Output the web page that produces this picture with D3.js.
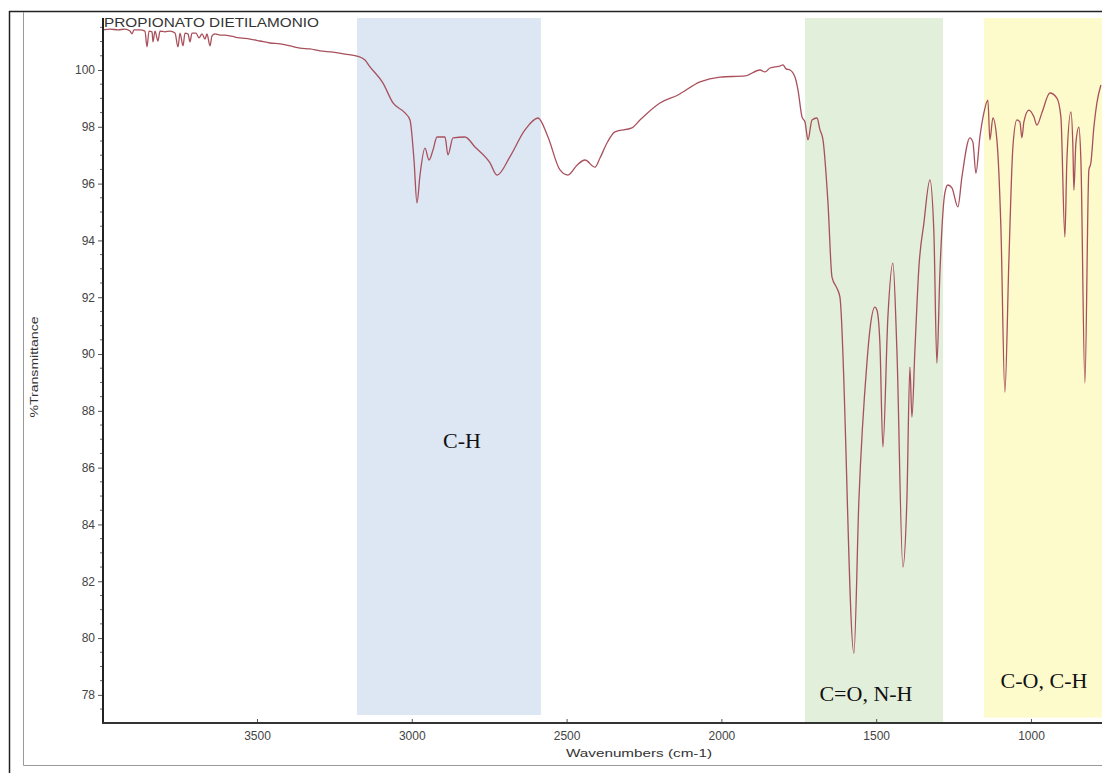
<!DOCTYPE html>
<html><head><meta charset="utf-8">
<script src="https://cdn.jsdelivr.net/npm/d3@7"></script>
<style>body{margin:0;background:#fff}svg{display:block}</style>
</head><body>
<svg id="c" width="1102" height="773"></svg>
<script>
// ---- data ----
const title = "PROPIONATO DIETILAMONIO";
const xAxisTitle = "Wavenumbers (cm-1)";
const yAxisTitle = "%Transmittance";
const wavenumber = [
3997.4,3974.8,3948.9,3926.4,3910.2,3903.7,3897.3,3878.0,3861.8,3855.3,3848.8,3839.1,3835.9,3829.5,3819.8,3813.3,
3797.2,3781.0,3764.9,3755.2,3748.7,3739.0,3732.6,3722.9,3716.4,3709.9,3697.0,3687.3,3677.6,3668.0,3661.5,3651.8,
3645.4,3635.7,3619.5,3603.3,3587.2,3571.0,3554.9,3522.6,3490.3,3458.0,3425.7,3393.4,3361.1,3328.8,3296.5,3254.5,
3215.9,3177.0,3151.2,3135.0,3093.0,3060.7,3021.9,3005.8,2992.9,2983.2,2973.5,2957.4,2944.4,2931.5,2918.6,2892.8,
2883.1,2866.9,2828.2,2795.9,2747.4,2724.8,2683.1,2634.5,2592.4,2560.1,2521.3,2495.5,2466.4,2440.6,2408.3,2392.1,
2369.5,2343.7,2288.8,2263.0,2198.3,2140.2,2069.1,2004.5,1923.7,1875.3,1859.2,1843.0,1826.8,1810.7,1801.0,1791.3,
1778.4,1762.3,1752.6,1739.6,1729.9,1720.3,1707.3,1691.2,1681.5,1671.8,1655.7,1642.7,1626.9,1617.2,1572.0,1555.8,
1530.0,1520.3,1504.2,1497.7,1488.0,1478.3,1462.2,1446.0,1433.1,1413.7,1400.8,1391.1,1384.6,1374.9,1362.0,1345.9,
1326.5,1313.6,1303.9,1294.2,1278.1,1268.4,1255.4,1236.1,1223.1,1197.3,1187.6,1177.9,1165.0,1152.1,1139.2,1132.7,
1123.0,1110.1,1097.2,1084.3,1071.3,1058.4,1045.5,1035.8,1029.3,1022.9,1006.7,990.6,980.9,964.8,938.9,916.3,
903.4,890.5,884.0,871.1,864.6,861.4,854.9,845.2,838.8,825.8,813.0,806.5,796.8,787.1,774.2
];
const transmittance = [
101.41,101.44,101.41,101.44,101.37,101.27,101.41,101.41,101.37,100.81,101.37,101.34,100.99,101.37,101.02,101.37,
101.34,101.37,101.30,100.81,101.30,100.85,101.30,101.27,100.99,101.30,101.30,101.13,101.27,101.09,101.27,100.85,
101.20,101.27,101.23,101.23,101.20,101.16,101.13,101.09,101.02,100.95,100.92,100.85,100.77,100.74,100.67,100.63,
100.56,100.49,100.35,100.11,99.54,98.84,98.49,98.24,96.83,95.32,96.30,97.25,96.83,97.18,97.64,97.64,
97.01,97.61,97.64,97.29,96.73,96.30,96.94,97.89,98.31,97.64,96.48,96.30,96.65,96.83,96.58,96.90,
97.43,97.82,97.96,98.24,98.84,99.12,99.58,99.75,99.79,100.00,99.93,100.07,100.11,100.14,100.18,100.04,
100.00,99.75,99.30,98.35,98.17,97.54,98.24,98.31,97.89,97.54,95.32,92.71,92.32,92.01,79.47,84.86,
89.68,90.85,91.65,91.55,90.39,86.73,91.30,93.20,90.14,82.50,84.86,89.54,87.78,90.14,93.06,94.61,
96.13,94.26,89.68,92.85,95.67,95.95,95.85,95.18,96.23,97.61,97.46,96.37,97.64,98.49,98.94,97.54,
98.31,97.54,94.47,88.66,93.31,97.29,98.24,98.17,97.61,98.17,98.59,98.35,98.06,98.49,99.19,99.01,
98.35,94.12,96.83,98.52,97.29,95.77,97.43,97.99,96.83,88.98,96.48,96.73,97.99,98.84,99.47
];
const xTickValues = [3500,3000,2500,2000,1500,1000];
const yTickValues = [78,80,82,84,86,88,90,92,94,96,98,100];
const bandLabels = ["C-H","C=O, N-H","C-O, C-H"];
const bandFrom = [3177, 1730, 1152];
const bandTo = [2583, 1284, 700];
const bandFloor = [77.29, 77.04, 77.20];

// ---- styles / layout ----
const bandFill = ["#dce7f3","#e2efda","#fdfbcc"];
const labelAt = [[2838,86.70],[1533,77.78],[958,78.24]];
const W = 1102, H = 773;
const plot = {left:103, right:1102, top:18, bottom:723};

const svg = d3.select("#c");
const x = d3.scaleLinear().domain([3997.4, 770.6]).range([plot.left, plot.right]);
const y = d3.scaleLinear().domain([77.01, 101.83]).range([plot.bottom, plot.top]);

// frames
svg.append("line").attr("x1",9.5).attr("x2",9.5).attr("y1",11).attr("y2",H).attr("stroke","#222").attr("stroke-width",1.5);
svg.append("line").attr("x1",9).attr("x2",W).attr("y1",11.5).attr("y2",11.5).attr("stroke","#222").attr("stroke-width",1.5);
svg.append("line").attr("x1",23.5).attr("x2",23.5).attr("y1",12).attr("y2",765.5).attr("stroke","#999").attr("stroke-width",1);
svg.append("line").attr("x1",23.5).attr("x2",W).attr("y1",765.5).attr("y2",765.5).attr("stroke","#999").attr("stroke-width",1);

svg.append("defs").append("clipPath").attr("id","clip").append("rect")
  .attr("x",plot.left).attr("y",plot.top-6).attr("width",plot.right-plot.left).attr("height",plot.bottom-plot.top+6);
const g = svg.append("g").attr("clip-path","url(#clip)");

// bands
bandLabels.forEach((lab,i)=>{
  const x0 = x(bandFrom[i]), x1 = x(bandTo[i]);
  g.append("rect").attr("x",x0).attr("y",plot.top).attr("width",x1-x0)
   .attr("height",y(bandFloor[i])-plot.top).attr("fill",bandFill[i]);
});

// spectrum
const pts = wavenumber.map((w,i)=>[w,transmittance[i]]);
const line = d3.line().x(d=>x(d[0])).y(d=>y(d[1])).curve(d3.curveMonotoneX);
g.append("path").datum(pts).attr("d",line).attr("fill","none")
 .attr("stroke","#a8505c").attr("stroke-width",1.3).attr("stroke-linejoin","round");

// band labels
bandLabels.forEach((lab,i)=>{
  svg.append("text").attr("x",x(labelAt[i][0])).attr("y",y(labelAt[i][1]))
   .attr("text-anchor","middle").attr("font-family","'Liberation Serif','Times New Roman',serif")
   .attr("font-size",22).attr("fill","#111").text(lab);
});

// axes
const yMinor = d3.range(77.5, 101.9, 0.5).filter(v=>Math.abs(v%2)>0.01);
const ga = svg.append("g");
const yAx = ga.append("g").attr("transform",`translate(${plot.left},0)`)
  .call(d3.axisLeft(y).tickValues(yTickValues).tickSize(5).tickPadding(3).tickFormat(d3.format("d")));
yAx.select(".domain").remove();
yAx.selectAll("text").attr("font-family","'Liberation Sans',Arial,sans-serif").attr("font-size",12).attr("fill","#444");
yAx.selectAll("line").attr("stroke","#555");
ga.append("g").selectAll("line").data(yMinor).join("line")
  .attr("x1",plot.left-3).attr("x2",plot.left).attr("y1",d=>y(d)).attr("y2",d=>y(d)).attr("stroke","#666");

const xAx = ga.append("g").attr("transform",`translate(0,${plot.bottom})`)
  .call(d3.axisBottom(x).tickValues(xTickValues).tickSize(-4).tickPadding(8).tickFormat(d3.format("d")));
xAx.select(".domain").remove();
xAx.selectAll("text").attr("font-family","'Liberation Sans',Arial,sans-serif").attr("font-size",12).attr("fill","#444");
xAx.selectAll("line").attr("stroke","#555");

ga.append("line").attr("x1",plot.left).attr("x2",plot.left).attr("y1",plot.top).attr("y2",plot.bottom+1)
  .attr("stroke","#222").attr("stroke-width",2);
ga.append("line").attr("x1",plot.left-1).attr("x2",plot.right).attr("y1",plot.bottom).attr("y2",plot.bottom)
  .attr("stroke","#333").attr("stroke-width",2);

// titles
svg.append("text").attr("x",104).attr("y",27).attr("font-family","'Liberation Sans',Arial,sans-serif")
  .attr("font-size",13).attr("fill","#333").attr("textLength",215).attr("lengthAdjust","spacingAndGlyphs").text(title);
svg.append("text").attr("x",639).attr("y",757).attr("text-anchor","middle").attr("font-family","'Liberation Sans',Arial,sans-serif")
  .attr("font-size",11).attr("fill","#333").attr("textLength",146).attr("lengthAdjust","spacingAndGlyphs").text(xAxisTitle);
svg.append("text").attr("transform","translate(38,367) rotate(-90)").attr("text-anchor","middle")
  .attr("font-family","'Liberation Sans',Arial,sans-serif").attr("font-size",11).attr("fill","#333")
  .attr("textLength",101).attr("lengthAdjust","spacingAndGlyphs").text(yAxisTitle);
</script>
</body></html>
